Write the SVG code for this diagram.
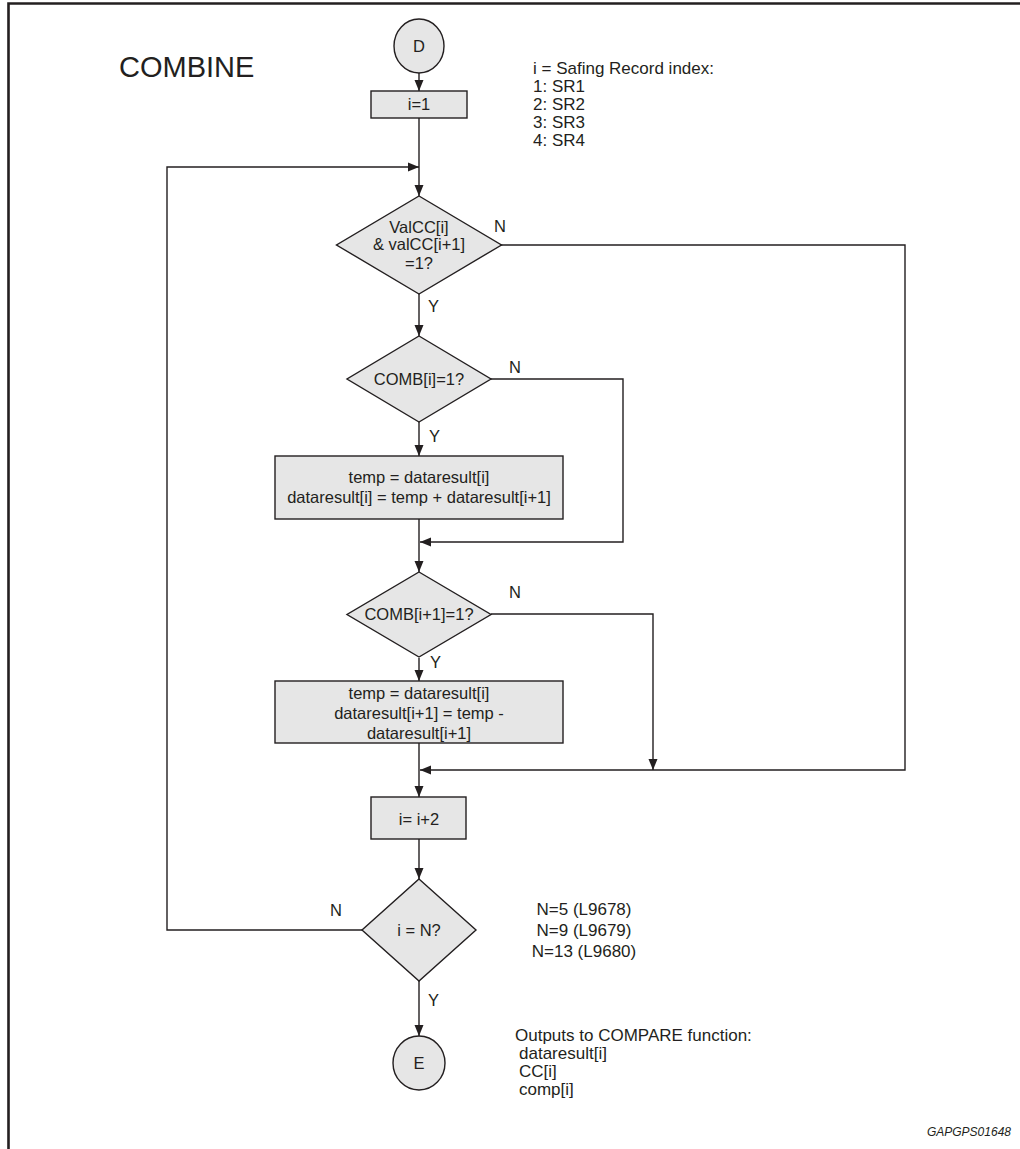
<svg xmlns="http://www.w3.org/2000/svg" width="1020" height="1149" viewBox="0 0 1020 1149">
<style>
.shape{fill:#e6e6e6;stroke:#231f20;stroke-width:1.4}
.conn{fill:none;stroke:#231f20;stroke-width:1.4;marker-end:url(#ah)}
text{font-family:"Liberation Sans",Arial,sans-serif;fill:#231f20}
.t{font-size:16.5px;text-anchor:middle}
.lbl{font-size:16.5px}
.note{font-size:17px}
</style>
<defs>
<marker id="ah" markerUnits="userSpaceOnUse" markerWidth="12" markerHeight="10" refX="11" refY="5" orient="auto">
<path d="M0,0.5 L11,5 L0,9.5 z" fill="#231f20"/>
</marker>
</defs>
<rect width="1020" height="1149" fill="#ffffff"/>
<path d="M8.5,1149 V3.5 H1020" fill="none" stroke="#231f20" stroke-width="2.6"/>
<text x="119" y="77" style="font-size:29px">COMBINE</text>
<g id="note-index" class="note">
<text x="533" y="74">i = Safing Record index:</text>
<text x="533" y="92">1: SR1</text>
<text x="533" y="110">2: SR2</text>
<text x="533" y="128">3: SR3</text>
<text x="533" y="146">4: SR4</text>
</g>
<g id="connectors">
<line class="conn" x1="419" y1="73" x2="419" y2="91"/>
<line class="conn" x1="419" y1="118" x2="419" y2="196"/>
<polyline class="conn" points="362,930 167,930 167,167 419,167"/>
<line class="conn" x1="419" y1="294" x2="419" y2="336"/>
<polyline class="conn" points="501,245 905,245 905,770 420,770"/>
<line class="conn" x1="419" y1="422" x2="419" y2="456"/>
<polyline class="conn" points="491,379 623,379 623,542 420,542"/>
<line class="conn" x1="419" y1="519" x2="419" y2="572"/>
<line class="conn" x1="419" y1="658" x2="419" y2="681"/>
<polyline class="conn" points="491,614 653,614 653,770"/>
<line class="conn" x1="419" y1="743" x2="419" y2="797"/>
<line class="conn" x1="419" y1="839" x2="419" y2="879"/>
<line class="conn" x1="419" y1="981" x2="419" y2="1036"/>
<text class="lbl" x="494" y="232">N</text>
<text class="lbl" x="428" y="312">Y</text>
<text class="lbl" x="509" y="373">N</text>
<text class="lbl" x="429" y="442">Y</text>
<text class="lbl" x="509" y="598">N</text>
<text class="lbl" x="430" y="668">Y</text>
<text class="lbl" x="330" y="916">N</text>
<text class="lbl" x="428" y="1006">Y</text>
</g>
<g id="start-D">
<ellipse class="shape" cx="419" cy="46" rx="25" ry="27"/>
<text class="t" x="419" y="52">D</text>
</g>
<g id="init">
<rect class="shape" x="371" y="91" width="96" height="27"/>
<text class="t" x="419" y="110">i=1</text>
</g>
<g id="dec-valcc">
<polygon class="shape" points="419,196 501.5,245 419,294 336.5,245"/>
<text class="t" x="419" y="233">ValCC[i]</text>
<text class="t" x="419" y="250">&amp; valCC[i+1]</text>
<text class="t" x="419" y="269">=1?</text>
</g>
<g id="dec-comb-i">
<polygon class="shape" points="419,336 491,379 419,422 347,379"/>
<text class="t" x="419" y="385">COMB[i]=1?</text>
</g>
<g id="proc-add">
<rect class="shape" x="275" y="456" width="288" height="63"/>
<text class="t" x="419" y="483">temp = dataresult[i]</text>
<text class="t" x="419" y="503">dataresult[i] = temp + dataresult[i+1]</text>
</g>
<g id="dec-comb-i1">
<polygon class="shape" points="419,572 491,614.5 419,657 347,614.5"/>
<text class="t" x="419" y="620">COMB[i+1]=1?</text>
</g>
<g id="proc-sub">
<rect class="shape" x="275" y="681" width="288" height="62"/>
<text class="t" x="419" y="699">temp = dataresult[i]</text>
<text class="t" x="419" y="719">dataresult[i+1] = temp -</text>
<text class="t" x="419" y="739">dataresult[i+1]</text>
</g>
<g id="incr">
<rect class="shape" x="371" y="797" width="95" height="42"/>
<text class="t" x="419" y="825">i= i+2</text>
</g>
<g id="dec-end">
<polygon class="shape" points="419,879 476,930 419,981 362,930"/>
<text class="t" x="419" y="936">i = N?</text>
</g>
<g id="note-n" class="note">
<text x="584" y="915" text-anchor="middle">N=5 (L9678)</text>
<text x="584" y="936" text-anchor="middle">N=9 (L9679)</text>
<text x="584" y="957" text-anchor="middle">N=13 (L9680)</text>
</g>
<g id="end-E">
<ellipse class="shape" cx="419" cy="1063" rx="26" ry="27"/>
<text class="t" x="419" y="1069">E</text>
</g>
<g id="note-out" class="note">
<text x="515" y="1041">Outputs to COMPARE function:</text>
<text x="519" y="1059">dataresult[i]</text>
<text x="519" y="1077">CC[i]</text>
<text x="519" y="1095">comp[i]</text>
</g>
<text x="1011" y="1136" text-anchor="end" style="font-size:12px;font-style:italic">GAPGPS01648</text>
</svg>
